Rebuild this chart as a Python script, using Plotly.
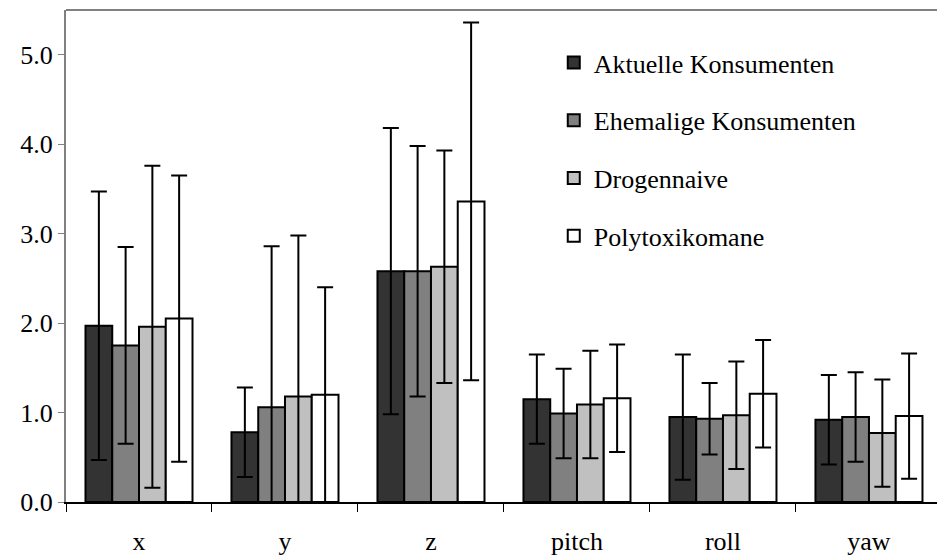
import plotly.graph_objects as go

# Head movement parameters (categories on the x axis)
categories = ["x", "y", "z", "pitch", "roll", "yaw"]

# Group names
groups = ["Aktuelle Konsumenten", "Ehemalige Konsumenten", "Drogennaive", "Polytoxikomane"]

# Mean values per group
aktuelle_mean = [1.97, 0.78, 2.58, 1.15, 0.95, 0.92]
ehemalige_mean = [1.75, 1.06, 2.58, 0.99, 0.93, 0.95]
drogennaive_mean = [1.96, 1.18, 2.63, 1.09, 0.97, 0.77]
poly_mean = [2.05, 1.20, 3.36, 1.16, 1.21, 0.96]

# Standard deviations per group
aktuelle_sd = [1.50, 0.50, 1.60, 0.50, 0.70, 0.50]
ehemalige_sd = [1.10, 1.80, 1.40, 0.50, 0.40, 0.50]
drogennaive_sd = [1.80, 1.80, 1.30, 0.60, 0.60, 0.60]
poly_sd = [1.60, 1.20, 2.00, 0.60, 0.60, 0.70]

# Y axis ticks
y_ticks = [0, 1, 2, 3, 4, 5]
y_tick_labels = ["0.0", "1.0", "2.0", "3.0", "4.0", "5.0"]

means = [aktuelle_mean, ehemalige_mean, drogennaive_mean, poly_mean]
sds = [aktuelle_sd, ehemalige_sd, drogennaive_sd, poly_sd]
fills = ["#333333", "#808080", "#c0c0c0", "#ffffff"]

FONT = "Liberation Serif"

fig = go.Figure()
for name, m, s, c in zip(groups, means, sds, fills):
    fig.add_trace(go.Bar(
        x=categories,
        y=m,
        name=name,
        legendgroup=name,
        marker=dict(color=c, line=dict(color="#000000", width=2)),
        error_y=dict(type="data", array=s, symmetric=True,
                     color="#000000", thickness=2, width=8),
    ))

fig.update_layout(
    width=937,
    height=558,
    barmode="group",
    bargap=0.267,
    bargroupgap=0,
    plot_bgcolor="#ffffff",
    paper_bgcolor="#ffffff",
    font=dict(family=FONT, size=26, color="#000000"),
    margin=dict(l=66, r=0, t=10, b=56),
    showlegend=True,
    legend=dict(
        x=0.56, y=0.941, xanchor="left", yanchor="top",
        bgcolor="rgba(0,0,0,0)",
        font=dict(family=FONT, size=26, color="#000000"),
        tracegroupgap=21,
        itemclick=False,
    ),
    xaxis=dict(
        type="category",
        range=[-0.5, 5.466],
        showline=True, linecolor="#000000", linewidth=1.5,
        ticks="outside", tickson="boundaries", ticklen=8,
        tickcolor="#000000", tickwidth=1,
        ticklabelstandoff=15,
        showgrid=False, zeroline=False,
        tickfont=dict(family=FONT, size=26, color="#000000"),
    ),
    yaxis=dict(
        range=[0, 5.5],
        tickvals=y_ticks, ticktext=y_tick_labels,
        showline=True, linecolor="#808080", linewidth=2,
        ticks="outside", ticklen=6, tickcolor="#808080", tickwidth=1,
        showgrid=False, zeroline=False,
        tickfont=dict(family=FONT, size=26, color="#000000"),
    ),
    shapes=[dict(type="line", xref="paper", yref="paper",
                 x0=0, x1=1, y0=1, y1=1,
                 line=dict(color="#808080", width=2))],
)

fig.write_html("out.html")
